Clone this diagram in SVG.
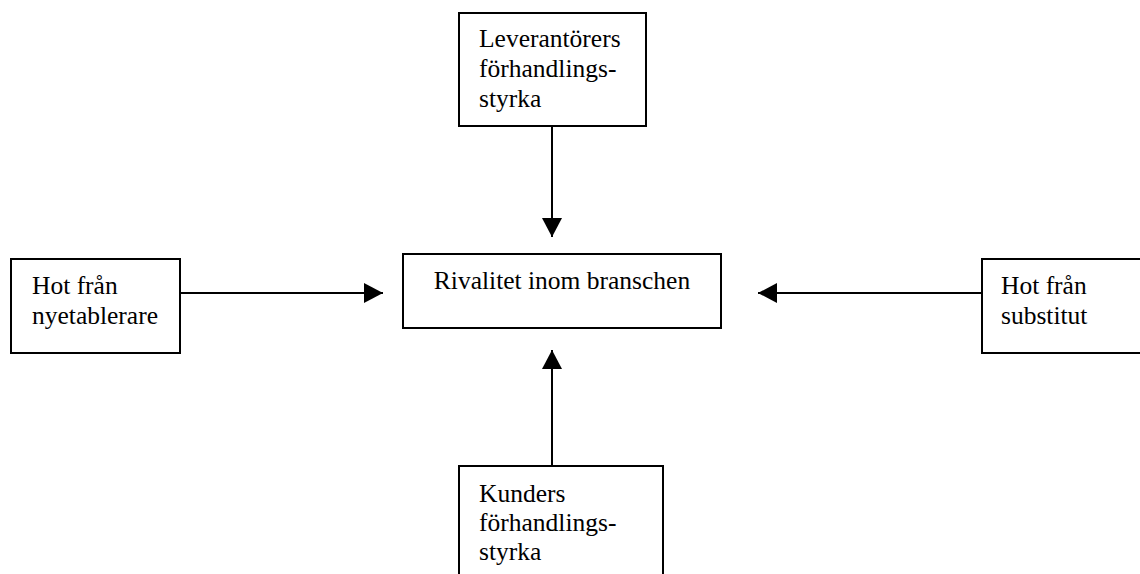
<svg xmlns="http://www.w3.org/2000/svg" width="1140" height="574" viewBox="0 0 1140 574">
<style>
.box{fill:#fff;stroke:#000;stroke-width:2}
.t{font-family:"Liberation Serif","Times New Roman",serif;font-size:25.5px;fill:#000}
.c{stroke:#000;stroke-width:2;fill:none}
</style>
<defs>
<marker id="ah" viewBox="0 0 19 20" refX="19" refY="10" markerWidth="19" markerHeight="20" markerUnits="userSpaceOnUse" orient="auto">
<path d="M0,0 L19,10 L0,20 Z" fill="#000"/>
</marker>
</defs>
<rect width="1140" height="574" fill="#fff"/>
<g id="connectors">
<line class="c" x1="552" y1="126" x2="552" y2="237" marker-end="url(#ah)"/>
<line class="c" x1="180" y1="293" x2="383" y2="293" marker-end="url(#ah)"/>
<line class="c" x1="982" y1="293" x2="758" y2="293" marker-end="url(#ah)"/>
<line class="c" x1="552" y1="466" x2="552" y2="350" marker-end="url(#ah)"/>
</g>
<g id="suppliers">
<rect class="box" x="459" y="13" width="187" height="113"/>
<text class="t" x="479" y="47">Leverantörers</text>
<text class="t" x="479" y="77">förhandlings-</text>
<text class="t" x="479" y="107">styrka</text>
</g>
<g id="rivalry">
<rect class="box" x="403" y="254" width="318" height="74"/>
<text class="t" x="562" y="289" text-anchor="middle">Rivalitet inom branschen</text>
</g>
<g id="entrants">
<rect class="box" x="11" y="259" width="169" height="94"/>
<text class="t" x="32" y="294">Hot från</text>
<text class="t" x="32" y="324">nyetablerare</text>
</g>
<g id="substitutes">
<rect class="box" x="982" y="259" width="170" height="94"/>
<text class="t" x="1001" y="294">Hot från</text>
<text class="t" x="1001" y="324">substitut</text>
</g>
<g id="customers">
<rect class="box" x="459" y="466" width="204" height="120"/>
<text class="t" x="479" y="502">Kunders</text>
<text class="t" x="479" y="531">förhandlings-</text>
<text class="t" x="479" y="560">styrka</text>
</g>
</svg>
